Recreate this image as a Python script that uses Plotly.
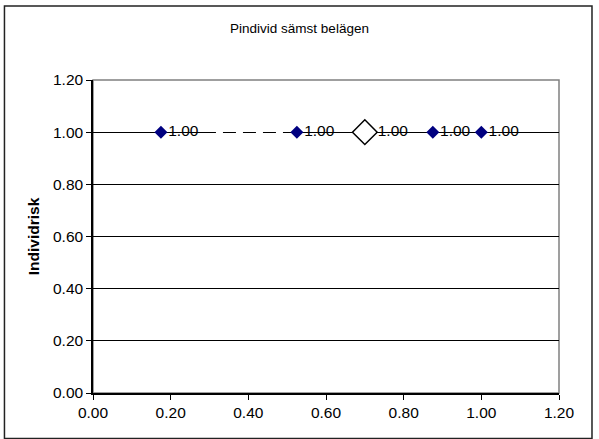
import plotly.graph_objects as go

# data
x_blue = [0.175, 0.525, 0.875, 1.0]
y_blue = [1.0, 1.0, 1.0, 1.0]
x_white = [0.70]
y_white = [1.0]
x_dash = [0.175, 0.525]   # dashed part of the series line
y_dash = [1.0, 1.0]
tick_vals = [0.0, 0.2, 0.4, 0.6, 0.8, 1.0, 1.2]
tick_text = ["0.00", "0.20", "0.40", "0.60", "0.80", "1.00", "1.20"]

FONT = "Liberation Sans, Arial, sans-serif"

fig = go.Figure()

# white gaps over the 1.00 gridline make the first segment look dashed
fig.add_trace(go.Scatter(
    x=x_dash, y=y_dash, mode="lines",
    line=dict(color="white", width=3,
              dash="0px,55px,7px,13px,7px,13px,7px,13px,7px,60px"),
    hoverinfo="skip", showlegend=False))

fig.add_trace(go.Scatter(
    x=x_blue, y=y_blue, mode="markers+text",
    marker=dict(symbol="diamond", size=10, color="#000080"),
    text=["%.2f" % v for v in y_blue], textposition="middle right",
    textfont=dict(family=FONT, size=15.5, color="black"),
    showlegend=False))

fig.add_trace(go.Scatter(
    x=x_white, y=y_white, mode="markers+text",
    marker=dict(symbol="diamond", size=19, color="white",
                line=dict(color="black", width=1.5)),
    text=["%.2f" % v for v in y_white], textposition="middle right",
    textfont=dict(family=FONT, size=15.5, color="black"),
    showlegend=False))

axis_common = dict(
    range=[0, 1.2], tickvals=tick_vals, ticktext=tick_text,
    ticks="outside", ticklen=5, tickcolor="black", tickwidth=1,
    showline=True, linecolor="black", linewidth=1.5,
    zeroline=False, tickfont=dict(family=FONT, size=15.5, color="black"),
)

fig.update_layout(
    width=599, height=439,
    margin=dict(l=93, r=40, t=80, b=46),
    paper_bgcolor="white", plot_bgcolor="white",
    title=dict(text="Pindivid sämst belägen", x=0.5, xanchor="center",
               y=1 - 28 / 439, yanchor="middle",
               font=dict(family=FONT, size=13.5, color="black")),
    xaxis=dict(showgrid=False, **axis_common),
    yaxis=dict(showgrid=True, gridcolor="black", gridwidth=1,
               title=dict(text="<b>Individrisk</b>", standoff=10,
                          font=dict(family=FONT, size=15.5, color="black")),
               **axis_common),
    shapes=[
        # gray plot-area border (top and right show)
        dict(type="rect", xref="paper", yref="paper", x0=0, x1=1, y0=0, y1=1,
             line=dict(color="#808080", width=1.5), layer="below"),
        # outer chart frame
        dict(type="rect", xref="paper", yref="paper",
             x0=-0.190, x1=1.0708, y0=-0.145, y1=1.2367,
             line=dict(color="#222222", width=1.5)),
    ],
)

# drop the default body margin so the figure sits at the window corner
fig.write_html("out.html", config={"displayModeBar": False},
               post_script="document.body.style.margin='0';")
